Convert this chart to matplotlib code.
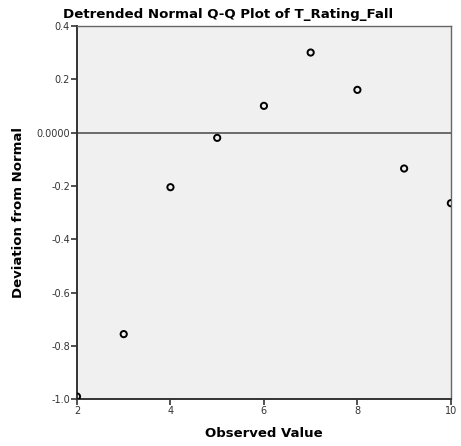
import numpy as np
import matplotlib.pyplot as plt
from matplotlib.ticker import FixedLocator, FixedFormatter

# observed values and detrended deviations
observed = [2, 3, 4, 5, 6, 7, 8, 9, 10]
deviation = [-0.99, -0.756, -0.205, -0.02, 0.10, 0.30, 0.16, -0.135, -0.265]

y_ticks = [-1.0, -0.8, -0.6, -0.4, -0.2, 0.0, 0.2, 0.4]
y_labels = ["-1.0", "-0.8", "-0.6", "-0.4", "-0.2", "0.0000", "0.2", "0.4"]
x_ticks = [2, 4, 6, 8, 10]

fig = plt.figure(figsize=(4.61, 4.46), dpi=100)
ax = fig.add_axes([0.167, 0.105, 0.811, 0.837])
ax.set_facecolor("#f0f0f0")

ax.axhline(0, color="#555555", lw=1.2, zorder=1)
ax.scatter(observed, deviation, s=20, facecolors="none", edgecolors="black",
           linewidths=1.4, zorder=3)

ax.set_xlim(2, 10)
ax.set_ylim(-1.0, 0.4)
ax.xaxis.set_major_locator(FixedLocator(x_ticks))
ax.yaxis.set_major_locator(FixedLocator(y_ticks))
ax.yaxis.set_major_formatter(FixedFormatter(y_labels))
ax.tick_params(direction="out", length=4, width=1.2, labelsize=7,
               labelcolor="#333333", color="#333333", pad=1)

for side in ["left", "bottom"]:
    ax.spines[side].set_color("#333333")
    ax.spines[side].set_linewidth(1.4)
for side in ["right", "top"]:
    ax.spines[side].set_color("#666666")
    ax.spines[side].set_linewidth(1.0)

fig.text(0.495, 0.952, "Detrended Normal Q-Q Plot of T_Rating_Fall", fontsize=9.6,
         fontweight="bold", ha="center", va="bottom")
ax.set_xlabel("Observed Value", fontsize=9.5, fontweight="bold", labelpad=8)
ax.set_ylabel("Deviation from Normal", fontsize=9.5, fontweight="bold", labelpad=8)

plt.savefig("out.png", dpi=100)
